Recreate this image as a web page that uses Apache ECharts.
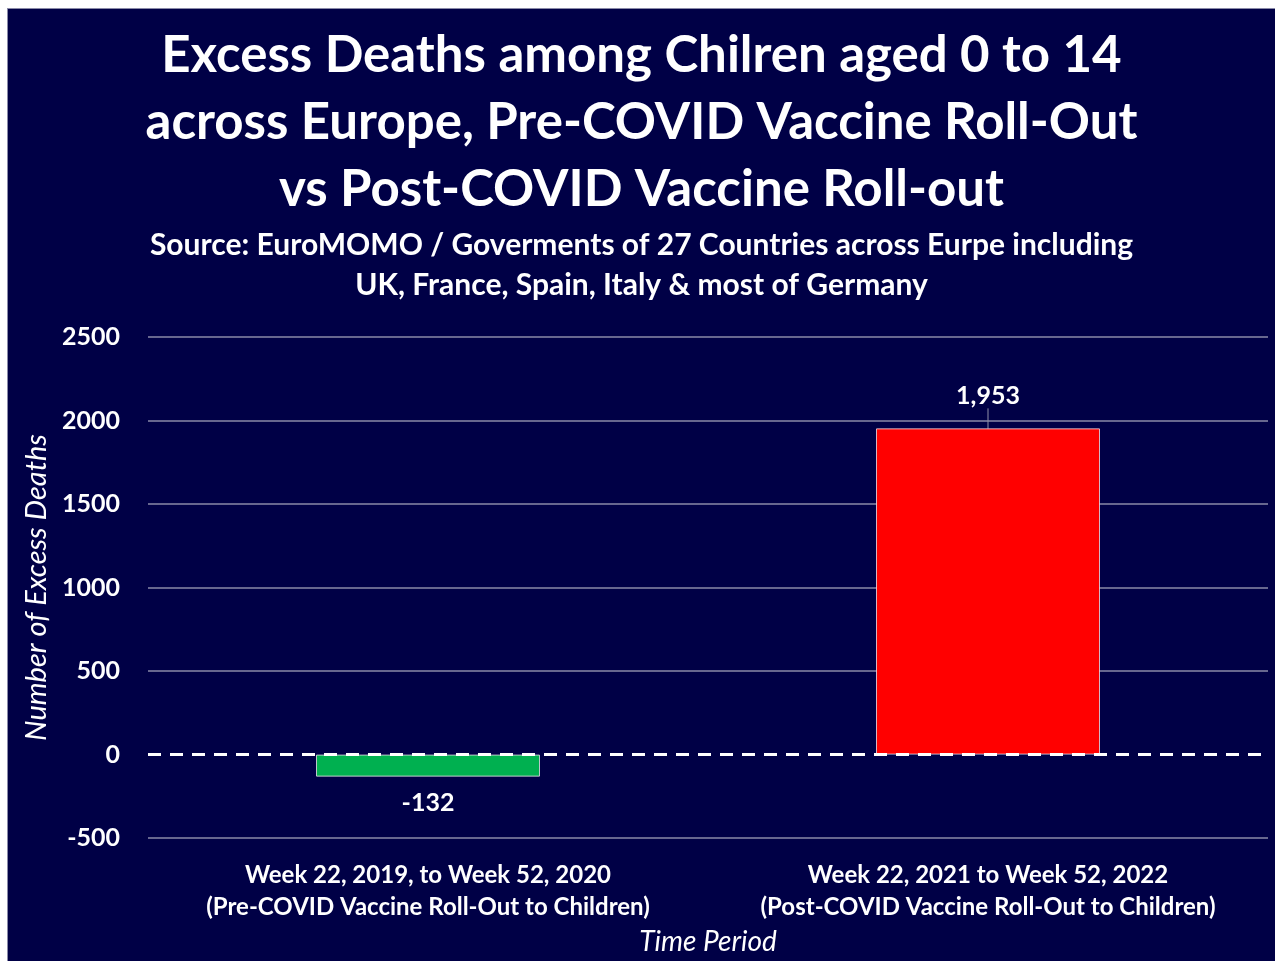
<!DOCTYPE html>
<html>
<head>
<meta charset="utf-8">
<script src="https://cdn.jsdelivr.net/npm/echarts@6/dist/echarts.min.js"></script>
<style>
html,body{margin:0;padding:0;background:#fff;width:1275px;height:961px;overflow:hidden;}
#frame{position:absolute;left:7px;top:8px;width:1268px;height:953px;background:#8a8aa8;}
#chart{position:absolute;left:8px;top:9px;width:1267px;height:952px;}
</style>
</head>
<body>
<div id="frame"></div>
<div id="chart"></div>
<script>
const titleLines = ["Excess Deaths among Chilren aged 0 to 14", "across Europe, Pre-COVID Vaccine Roll-Out", "vs Post-COVID Vaccine Roll-out"];
const subtitleLines = ["Source: EuroMOMO / Goverments of 27 Countries across Eurpe including", "UK, France, Spain, Italy & most of Germany"];
const categories = ["Week 22, 2019, to Week 52, 2020\n(Pre-COVID Vaccine Roll-Out to Children)", "Week 22, 2021 to Week 52, 2022\n(Post-COVID Vaccine Roll-Out to Children)"];
const excessDeaths = [-132, 1953];
const barColors = ["#00b050", "#ff0000"];
const yMin = -500, yMax = 2500, yStep = 500;
const yAxisName = "Number of Excess Deaths";
const xAxisName = "Time Period";

const FONT = "Lato, 'Open Sans', sans-serif";
const navy = "#000046";
const grid = "#8a8aa8";

const chart = echarts.init(document.getElementById('chart'), null, {renderer: 'canvas'});
const nLines = (yMax - yMin) / yStep + 1;
const splitColors = [];
for (let i = 0; i < nLines; i++) splitColors.push(yMin + i * yStep === 0 ? 'rgba(0,0,0,0)' : grid);

chart.setOption({
  backgroundColor: navy,
  animation: false,
  title: [
    {
      text: titleLines.join('\n'), left: 'center', top: 8,
      textStyle: {color: '#fff', fontFamily: FONT, fontWeight: 'bold', fontSize: 51, lineHeight: 67}
    },
    {
      text: subtitleLines.join('\n'), left: 'center', top: 211,
      textStyle: {color: '#fff', fontFamily: FONT, fontWeight: 'bold', fontSize: 30, lineHeight: 40}
    }
  ],
  grid: {left: 140, right: 7, top: 328, bottom: 118},
  xAxis: {
    type: 'category',
    data: categories,
    axisLine: {show: false, onZero: false},
    axisTick: {show: false},
    axisLabel: {color: '#fff', fontFamily: FONT, fontWeight: 'bold', fontSize: 24, lineHeight: 32, margin: 21, interval: 0},
    name: xAxisName, nameLocation: 'middle', nameGap: 89,
    nameTextStyle: {color: '#fff', fontFamily: FONT, fontStyle: 'italic', fontSize: 28}
  },
  yAxis: {
    type: 'value', min: yMin, max: yMax, interval: yStep,
    axisLine: {show: false}, axisTick: {show: false},
    splitLine: {show: true, lineStyle: {color: splitColors, width: 1.5}},
    axisLabel: {color: '#fff', fontFamily: FONT, fontWeight: 'bold', fontSize: 25, margin: 28, formatter: v => String(v)},
    name: yAxisName, nameLocation: 'middle', nameGap: 94,
    nameTextStyle: {color: '#fff', fontFamily: FONT, fontStyle: 'italic', fontSize: 29}
  },
  series: [{
    type: 'bar',
    barWidth: '40%',
    data: excessDeaths.map((v, i) => ({
      value: v,
      itemStyle: {color: barColors[i]},
      label: v < 0 ? {position: 'bottom', distance: 14} : {position: 'top', distance: 8},
      labelLine: {show: v >= 0}
    })),
    itemStyle: {borderColor: 'rgba(235,225,235,0.8)', borderWidth: 1},
    label: {
      show: true, color: '#fff', fontFamily: FONT, fontWeight: 'bold', fontSize: 25,
      formatter: p => p.value.toLocaleString('en-US')
    },
    labelLayout: p => (p.dataIndex === 1 ? {dy: -12} : {}),
    labelLine: {show: true, lineStyle: {color: '#9090a8', width: 1}},
    markLine: {
      silent: true, symbol: ['none', 'none'], label: {show: false},
      lineStyle: {color: '#fff', type: [13, 9], width: 3},
      data: [{yAxis: 0}]
    }
  }]
});
</script>
</body>
</html>
